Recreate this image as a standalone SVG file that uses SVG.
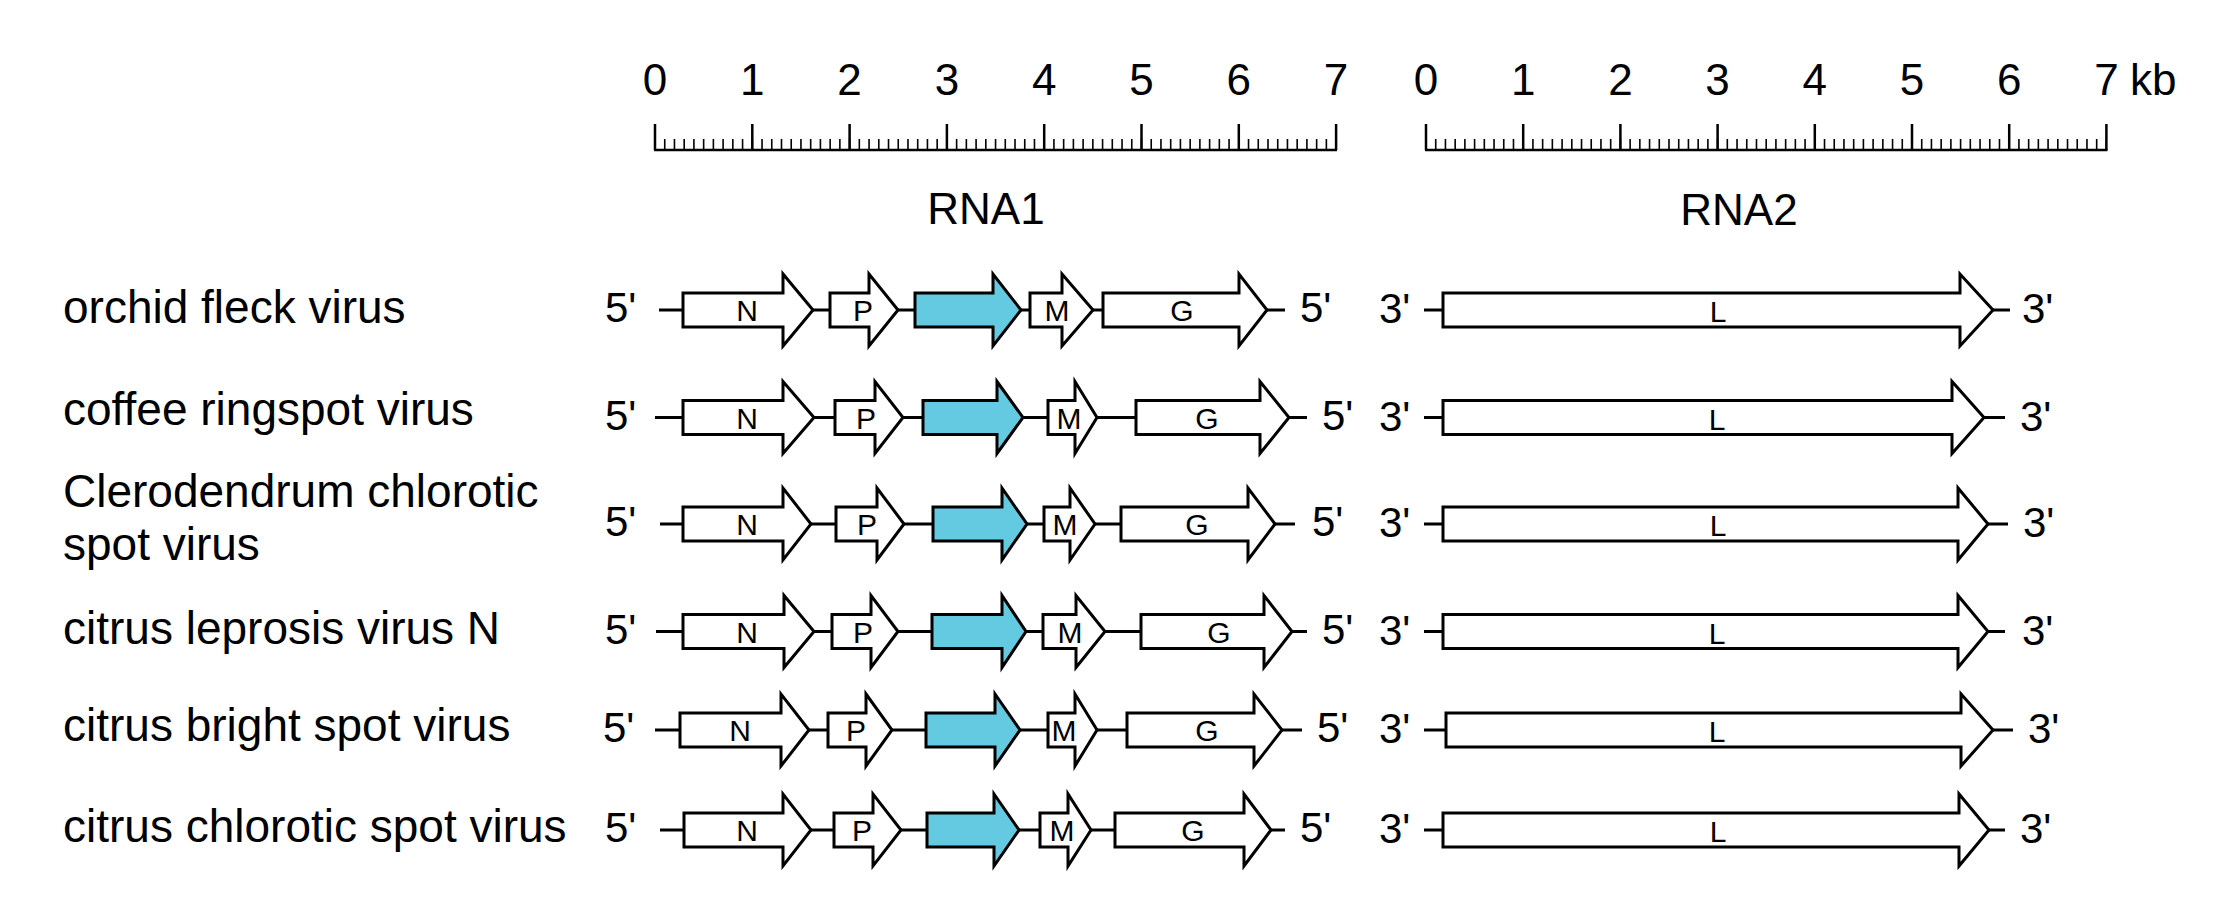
<svg xmlns="http://www.w3.org/2000/svg" width="2240" height="911" viewBox="0 0 2240 911">
<style>
text{font-family:"Liberation Sans",Arial,Helvetica,sans-serif;fill:#000}
.name{font-size:46px}
.num{font-size:44px;text-anchor:middle}
.rna{font-size:44px;text-anchor:middle}
.end{font-size:42px}
.lab{font-size:30px;text-anchor:middle}
.gene{fill:#fff;stroke:#000;stroke-width:3;stroke-linejoin:miter}
.hl{fill:#63cae2}
.bb{stroke:#000;stroke-width:3;fill:none}
.tick{stroke:#000;stroke-width:2.5;fill:none}
.minor{stroke:#000;stroke-width:11;fill:none}
</style>
<rect width="2240" height="911" fill="#fff"/>

<g id="ruler-rna1">
  <line class="tick" x1="654" y1="150" x2="1337" y2="150"/>
  <path class="tick" d="M655,124V150M752.3,124V150M849.6,124V150M946.9,124V150M1044.2,124V150M1141.5,124V150M1238.8,124V150M1336.1,124V150"/>
  <line class="minor" x1="654.2" y1="144.5" x2="1337" y2="144.5" stroke-dasharray="1.6 8.13"/>
  <text class="num" x="655" y="95">0</text>
  <text class="num" x="752.3" y="95">1</text>
  <text class="num" x="849.6" y="95">2</text>
  <text class="num" x="946.9" y="95">3</text>
  <text class="num" x="1044.2" y="95">4</text>
  <text class="num" x="1141.5" y="95">5</text>
  <text class="num" x="1238.8" y="95">6</text>
  <text class="num" x="1336.1" y="95">7</text>
  <text class="rna" x="986" y="224">RNA1</text>
</g>

<g id="ruler-rna2">
  <line class="tick" x1="1425" y1="150" x2="2107.5" y2="150"/>
  <path class="tick" d="M1426,124V150M1523.2,124V150M1620.4,124V150M1717.6,124V150M1814.8,124V150M1912,124V150M2009.2,124V150M2106.4,124V150"/>
  <line class="minor" x1="1425.2" y1="144.5" x2="2107" y2="144.5" stroke-dasharray="1.6 8.12"/>
  <text class="num" x="1426" y="95">0</text>
  <text class="num" x="1523.2" y="95">1</text>
  <text class="num" x="1620.4" y="95">2</text>
  <text class="num" x="1717.6" y="95">3</text>
  <text class="num" x="1814.8" y="95">4</text>
  <text class="num" x="1912" y="95">5</text>
  <text class="num" x="2009.2" y="95">6</text>
  <text class="num" x="2106.4" y="95">7</text>
  <text class="num" x="2130" y="95" style="text-anchor:start">kb</text>
  <text class="rna" x="1739" y="225">RNA2</text>
</g>

<g id="virus-names">
  <text class="name" x="63" y="322.5">orchid fleck virus</text>
  <text class="name" x="63" y="425">coffee ringspot virus</text>
  <text class="name" x="63" y="506.5">Clerodendrum chlorotic</text>
  <text class="name" x="63" y="560">spot virus</text>
  <text class="name" x="63" y="643.5">citrus leprosis virus N</text>
  <text class="name" x="63" y="741">citrus bright spot virus</text>
  <text class="name" x="63" y="842">citrus chlorotic spot virus</text>
</g>

<g id="connectors">
  <line class="bb" x1="659" y1="310" x2="1285" y2="310"/>
  <line class="bb" x1="1424" y1="310" x2="2010" y2="310"/>
  <line class="bb" x1="655" y1="417.5" x2="1307" y2="417.5"/>
  <line class="bb" x1="1424" y1="417.5" x2="2005" y2="417.5"/>
  <line class="bb" x1="660" y1="524" x2="1295" y2="524"/>
  <line class="bb" x1="1424" y1="524" x2="2008" y2="524"/>
  <line class="bb" x1="656" y1="631.5" x2="1307" y2="631.5"/>
  <line class="bb" x1="1424" y1="631.5" x2="2005" y2="631.5"/>
  <line class="bb" x1="655" y1="730" x2="1302" y2="730"/>
  <line class="bb" x1="1424" y1="730" x2="2013" y2="730"/>
  <line class="bb" x1="660" y1="830" x2="1285" y2="830"/>
  <line class="bb" x1="1424" y1="830" x2="2005" y2="830"/>
</g>

<g id="ends">
  <text class="end" x="605" y="322">5'</text><text class="end" x="1300" y="322">5'</text>
  <text class="end" x="1379" y="323">3'</text><text class="end" x="2022" y="323">3'</text>
  <text class="end" x="605" y="429.5">5'</text><text class="end" x="1322" y="429.5">5'</text>
  <text class="end" x="1379" y="430.5">3'</text><text class="end" x="2020" y="430.5">3'</text>
  <text class="end" x="605" y="536">5'</text><text class="end" x="1312" y="536">5'</text>
  <text class="end" x="1379" y="537">3'</text><text class="end" x="2023" y="537">3'</text>
  <text class="end" x="605" y="643.5">5'</text><text class="end" x="1322" y="643.5">5'</text>
  <text class="end" x="1379" y="644.5">3'</text><text class="end" x="2022" y="644.5">3'</text>
  <text class="end" x="603" y="742">5'</text><text class="end" x="1317" y="742">5'</text>
  <text class="end" x="1379" y="743">3'</text><text class="end" x="2028" y="743">3'</text>
  <text class="end" x="605" y="842">5'</text><text class="end" x="1300" y="842">5'</text>
  <text class="end" x="1379" y="843">3'</text><text class="end" x="2020" y="843">3'</text>
</g>

<!-- Row 1: orchid fleck virus -->
<g id="r1-N"><polygon class="gene" points="683,293 783,293 783,274 813,310 783,346 783,327 683,327"/><text class="lab" x="747" y="321">N</text></g>
<g id="r1-P"><polygon class="gene" points="830,293 869,293 869,274 898,310 869,346 869,327 830,327"/><text class="lab" x="863" y="321">P</text></g>
<g id="r1-X"><polygon class="gene hl" points="915,293 993,293 993,274 1021,310 993,346 993,327 915,327"/></g>
<g id="r1-M"><polygon class="gene" points="1030,293 1062,293 1062,274 1093,310 1062,346 1062,327 1030,327"/><text class="lab" x="1057" y="321">M</text></g>
<g id="r1-G"><polygon class="gene" points="1103,293 1239,293 1239,274 1267,310 1239,346 1239,327 1103,327"/><text class="lab" x="1182" y="321">G</text></g>
<g id="r1-L"><polygon class="gene" points="1443,293 1960,293 1960,274 1993,310 1960,346 1960,327 1443,327"/><text class="lab" x="1718" y="322">L</text></g>

<!-- Row 2: coffee ringspot virus -->
<g id="r2-N"><polygon class="gene" points="683,400.5 783,400.5 783,381.5 814,417.5 783,453.5 783,434.5 683,434.5"/><text class="lab" x="747" y="428.5">N</text></g>
<g id="r2-P"><polygon class="gene" points="835,400.5 875,400.5 875,381.5 903,417.5 875,453.5 875,434.5 835,434.5"/><text class="lab" x="866" y="428.5">P</text></g>
<g id="r2-X"><polygon class="gene hl" points="923,400.5 997,400.5 997,381.5 1023,417.5 997,453.5 997,434.5 923,434.5"/></g>
<g id="r2-M"><polygon class="gene" points="1048,400.5 1075,400.5 1075,381.5 1097,417.5 1075,453.5 1075,434.5 1048,434.5"/><text class="lab" x="1069" y="428.5">M</text></g>
<g id="r2-G"><polygon class="gene" points="1136,400.5 1260,400.5 1260,381.5 1289,417.5 1260,453.5 1260,434.5 1136,434.5"/><text class="lab" x="1207" y="428.5">G</text></g>
<g id="r2-L"><polygon class="gene" points="1443,400.5 1952,400.5 1952,381.5 1984,417.5 1952,453.5 1952,434.5 1443,434.5"/><text class="lab" x="1717" y="429.5">L</text></g>

<!-- Row 3: Clerodendrum chlorotic spot virus -->
<g id="r3-N"><polygon class="gene" points="683,507 783,507 783,488 811,524 783,560 783,541 683,541"/><text class="lab" x="747" y="535">N</text></g>
<g id="r3-P"><polygon class="gene" points="836,507 877,507 877,488 904,524 877,560 877,541 836,541"/><text class="lab" x="867" y="535">P</text></g>
<g id="r3-X"><polygon class="gene hl" points="933,507 1002,507 1002,488 1027,524 1002,560 1002,541 933,541"/></g>
<g id="r3-M"><polygon class="gene" points="1044,507 1070,507 1070,488 1095,524 1070,560 1070,541 1044,541"/><text class="lab" x="1065" y="535">M</text></g>
<g id="r3-G"><polygon class="gene" points="1121,507 1248,507 1248,488 1275,524 1248,560 1248,541 1121,541"/><text class="lab" x="1197" y="535">G</text></g>
<g id="r3-L"><polygon class="gene" points="1443,507 1958,507 1958,488 1988,524 1958,560 1958,541 1443,541"/><text class="lab" x="1718" y="536">L</text></g>

<!-- Row 4: citrus leprosis virus N -->
<g id="r4-N"><polygon class="gene" points="683,614.5 784,614.5 784,595.5 814,631.5 784,667.5 784,648.5 683,648.5"/><text class="lab" x="747" y="642.5">N</text></g>
<g id="r4-P"><polygon class="gene" points="832,614.5 871,614.5 871,595.5 898,631.5 871,667.5 871,648.5 832,648.5"/><text class="lab" x="863" y="642.5">P</text></g>
<g id="r4-X"><polygon class="gene hl" points="932,614.5 1002,614.5 1002,595.5 1026,631.5 1002,667.5 1002,648.5 932,648.5"/></g>
<g id="r4-M"><polygon class="gene" points="1043,614.5 1076,614.5 1076,595.5 1105,631.5 1076,667.5 1076,648.5 1043,648.5"/><text class="lab" x="1070" y="642.5">M</text></g>
<g id="r4-G"><polygon class="gene" points="1141,614.5 1264,614.5 1264,595.5 1292,631.5 1264,667.5 1264,648.5 1141,648.5"/><text class="lab" x="1219" y="642.5">G</text></g>
<g id="r4-L"><polygon class="gene" points="1443,614.5 1958,614.5 1958,595.5 1988,631.5 1958,667.5 1958,648.5 1443,648.5"/><text class="lab" x="1717" y="643.5">L</text></g>

<!-- Row 5: citrus bright spot virus -->
<g id="r5-N"><polygon class="gene" points="680,713 781,713 781,694 809,730 781,766 781,747 680,747"/><text class="lab" x="740" y="741">N</text></g>
<g id="r5-P"><polygon class="gene" points="828,713 866,713 866,694 892,730 866,766 866,747 828,747"/><text class="lab" x="856" y="741">P</text></g>
<g id="r5-X"><polygon class="gene hl" points="926,713 995,713 995,694 1020,730 995,766 995,747 926,747"/></g>
<g id="r5-M"><polygon class="gene" points="1048,713 1075,713 1075,694 1097,730 1075,766 1075,747 1048,747"/><text class="lab" x="1064" y="741">M</text></g>
<g id="r5-G"><polygon class="gene" points="1127,713 1254,713 1254,694 1282,730 1254,766 1254,747 1127,747"/><text class="lab" x="1207" y="741">G</text></g>
<g id="r5-L"><polygon class="gene" points="1446,713 1961,713 1961,694 1993,730 1961,766 1961,747 1446,747"/><text class="lab" x="1717" y="742">L</text></g>

<!-- Row 6: citrus chlorotic spot virus -->
<g id="r6-N"><polygon class="gene" points="684,813 783,813 783,794 811,830 783,866 783,847 684,847"/><text class="lab" x="747" y="841">N</text></g>
<g id="r6-P"><polygon class="gene" points="834,813 873,813 873,794 901,830 873,866 873,847 834,847"/><text class="lab" x="862" y="841">P</text></g>
<g id="r6-X"><polygon class="gene hl" points="927,813 994,813 994,794 1019,830 994,866 994,847 927,847"/></g>
<g id="r6-M"><polygon class="gene" points="1040,813 1068,813 1068,794 1091,830 1068,866 1068,847 1040,847"/><text class="lab" x="1062" y="841">M</text></g>
<g id="r6-G"><polygon class="gene" points="1115,813 1244,813 1244,794 1271,830 1244,866 1244,847 1115,847"/><text class="lab" x="1193" y="841">G</text></g>
<g id="r6-L"><polygon class="gene" points="1443,813 1959,813 1959,794 1989,830 1959,866 1959,847 1443,847"/><text class="lab" x="1718" y="842">L</text></g>
</svg>
